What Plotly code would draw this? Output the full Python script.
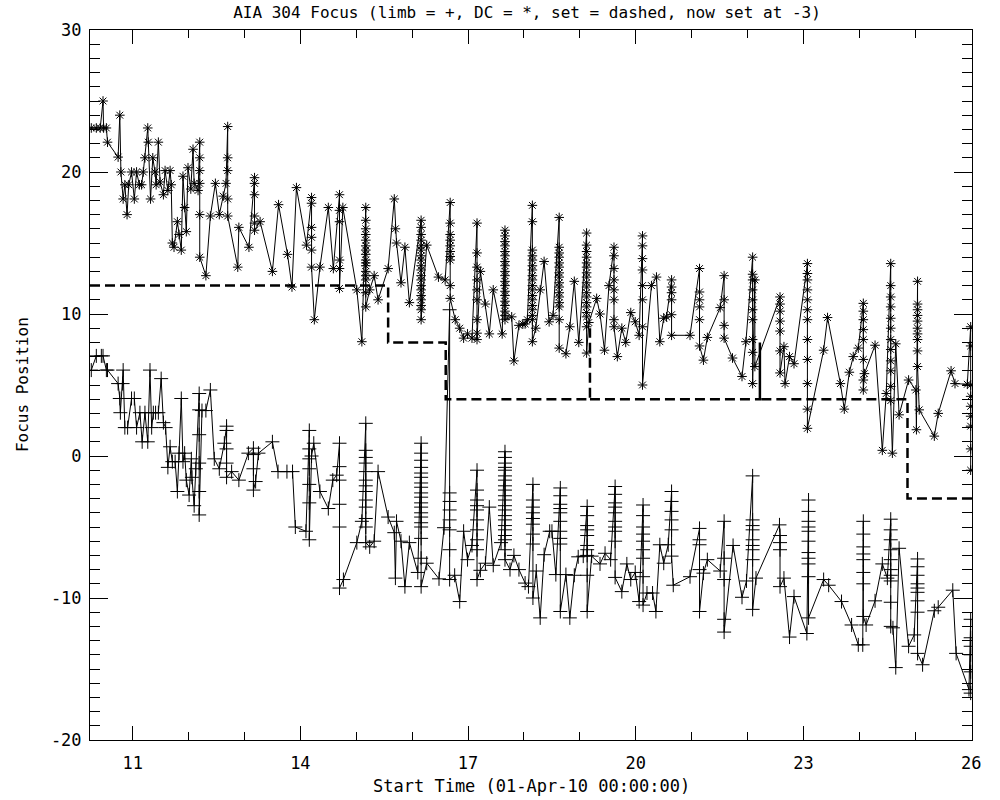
import plotly.graph_objects as go

# ---------------- data ----------------
# DC focus (asterisks): time (day of April 2010) and focus position
dc_t = [10.26, 10.35, 10.42, 10.47, 10.48, 10.53, 10.55, 10.74, 10.77, 10.79,
        10.83, 10.86, 10.90, 10.93, 10.98, 11.03, 11.07, 11.12, 11.16, 11.19,
        11.22, 11.27, 11.28, 11.32, 11.36, 11.40, 11.42, 11.46, 11.49, 11.55,
        11.58, 11.63, 11.67, 11.69, 11.71, 11.74, 11.80, 11.83, 11.87, 11.90,
        11.93, 11.96, 11.99, 12.04, 12.08, 12.10, 12.17,
        12.20, 12.20, 12.20, 12.20, 12.20, 12.20,
        12.31, 12.39, 12.48, 12.55, 12.62, 12.67,
        12.70, 12.70, 12.70, 12.70, 12.70,
        12.88, 12.90, 13.08,
        13.18, 13.18, 13.18, 13.18, 13.18, 13.18,
        13.28, 13.50, 13.61, 13.77, 13.85, 13.93, 14.11,
        14.20, 14.20, 14.20, 14.20, 14.20, 14.20,
        14.25, 14.35, 14.50, 14.59,
        14.70, 14.70, 14.70, 14.70, 14.70, 14.70,
        14.76, 15.01, 15.10,
        15.17, 15.17, 15.17, 15.17, 15.17, 15.17, 15.17, 15.17,
        15.17, 15.17, 15.17, 15.17, 15.17, 15.17, 15.17, 15.17,
        15.24, 15.32, 15.39, 15.57, 15.68, 15.70, 15.72, 15.80, 15.87, 15.95,
        16.16, 16.16, 16.16, 16.16, 16.16, 16.16, 16.16, 16.16, 16.16, 16.16,
        16.16, 16.16, 16.16, 16.16, 16.16, 16.16, 16.16, 16.16, 16.16,
        16.26, 16.47, 16.59,
        16.68, 16.68, 16.68, 16.68, 16.68, 16.68, 16.68, 16.68, 16.68, 16.68,
        16.77, 16.85, 16.92, 16.99, 17.07,
        17.16, 17.16, 17.16, 17.16, 17.16, 17.16, 17.16, 17.16, 17.16,
        17.22, 17.31, 17.38, 17.45, 17.61,
        17.66, 17.66, 17.66, 17.66, 17.66, 17.66, 17.66, 17.66, 17.66, 17.66,
        17.66, 17.66, 17.66, 17.66, 17.66, 17.66, 17.66, 17.66, 17.66,
        17.78, 17.82, 17.91, 17.98, 18.02, 18.06,
        18.15, 18.15, 18.15, 18.15, 18.15, 18.15, 18.15, 18.15, 18.15,
        18.15, 18.15, 18.15, 18.15, 18.15, 18.15, 18.15, 18.15, 18.15,
        18.21, 18.29, 18.36, 18.45, 18.52,
        18.63, 18.63, 18.63, 18.63, 18.63, 18.63, 18.63, 18.63,
        18.63, 18.63, 18.63, 18.63, 18.63, 18.63, 18.63, 18.63,
        18.75, 18.82, 18.90, 18.98,
        19.12, 19.12, 19.12, 19.12, 19.12, 19.12, 19.12, 19.12, 19.12,
        19.12, 19.12, 19.12, 19.12, 19.12, 19.12, 19.12, 19.12, 19.12,
        19.16, 19.30, 19.36, 19.44, 19.52,
        19.61, 19.61, 19.61, 19.61, 19.61, 19.61, 19.61, 19.61,
        19.67, 19.75, 19.82, 19.91, 19.99, 20.06,
        20.12, 20.12, 20.12, 20.12, 20.12, 20.12, 20.12, 20.12,
        20.28, 20.37, 20.43, 20.50, 20.55,
        20.64, 20.64, 20.64, 20.64, 20.64, 20.64,
        20.97,
        21.14, 21.14, 21.14, 21.14, 21.14, 21.14,
        21.21, 21.28, 21.51,
        21.58, 21.58, 21.58, 21.58,
        21.73, 21.90, 21.97,
        22.09, 22.09, 22.09, 22.09, 22.09, 22.09, 22.09, 22.09, 22.09, 22.09,
        22.13, 22.13,
        22.58, 22.58, 22.58, 22.58, 22.58, 22.58, 22.58,
        22.65, 22.67, 22.75, 22.83,
        23.07, 23.07, 23.07, 23.07, 23.07, 23.07, 23.07, 23.07, 23.07, 23.07,
        23.07, 23.07,
        23.36, 23.43, 23.66, 23.73, 23.82, 23.89, 23.98,
        24.07, 24.07, 24.07, 24.07, 24.07, 24.07, 24.07, 24.07,
        24.09, 24.28, 24.41, 24.48,
        24.56, 24.56, 24.56, 24.56, 24.56, 24.56, 24.56, 24.56, 24.56, 24.56,
        24.56, 24.56,
        24.59, 24.65, 24.71, 24.88, 25.01, 25.02,
        25.04, 25.04, 25.04, 25.04, 25.04, 25.04, 25.04, 25.04, 25.04, 25.04,
        25.07, 25.34, 25.41, 25.64, 25.71, 25.93,
        25.99, 25.99, 25.99, 25.99, 25.99, 25.99, 25.99, 25.99, 25.99]
dc_y = [23.1, 23.1, 23.1, 25.0, 23.1, 23.1, 22.1, 21.05, 24.0, 20.0,
        18.1, 19.1, 17.0, 19.1, 20.0, 18.1, 20.0, 19.1, 19.1, 20.0,
        21.0, 23.1, 22.1, 18.1, 21.0, 20.0, 19.1, 22.1, 19.3, 18.4,
        20.1, 18.7, 20.1, 19.1, 15.0, 14.7, 16.5, 15.6, 14.5, 19.7,
        17.5, 15.8, 20.3, 18.8, 21.6, 19.2, 18.7,
        22.1, 21.0, 20.1, 19.2, 17.0, 14.0,
        12.7, 16.9, 19.2, 17.0, 18.3, 19.2,
        23.2, 21.0, 20.1, 18.1, 16.9,
        13.3, 16.1, 14.7,
        19.6, 19.2, 18.4, 16.9, 16.4, 15.9,
        16.5, 13.0, 17.7, 14.2, 11.9, 18.9, 14.85,
        18.2, 17.8, 16.1, 15.4, 14.5, 13.3,
        9.6, 13.3, 17.5, 13.2,
        18.4, 17.3, 16.5, 13.8, 13.2, 11.8,
        17.5, 11.7, 8.05,
        17.5, 16.6, 16.0, 15.6, 15.2, 14.8, 14.5, 14.2,
        13.8, 13.6, 13.4, 13.0, 12.7, 12.4, 11.5, 10.5,
        11.7, 12.7, 11.0, 13.2, 18.1, 16.0, 15.0, 12.2, 14.7, 10.8,
        16.6, 16.1, 15.6, 15.2, 14.8, 14.5, 14.1, 13.8, 13.4, 13.1,
        12.7, 12.4, 12.0, 11.7, 11.3, 11.0, 10.6, 10.3, 9.6,
        14.85, 12.6, 12.4,
        17.85, 16.4, 15.6, 15.2, 14.8, 14.4, 14.05, 13.8, 12.0, 11.1,
        9.6, 9.0, 8.3, 8.6, 8.3,
        16.4, 14.3, 13.3, 12.4, 11.7, 11.0, 9.6, 8.65, 8.2,
        13.0, 10.7, 8.6, 11.7, 8.6,
        15.9, 15.5, 15.1, 14.8, 14.4, 14.1, 13.7, 13.4, 13.0, 12.7,
        12.3, 12.0, 11.6, 11.3, 10.9, 10.6, 10.2, 9.9, 9.6,
        9.8, 6.7, 9.2, 9.3, 9.3, 9.6,
        17.65, 16.5, 14.5, 14.1, 13.8, 13.4, 13.1, 12.7, 12.4,
        12.0, 11.7, 11.3, 11.0, 10.6, 10.3, 9.9, 9.6, 8.05,
        9.0, 11.7, 13.7, 9.45, 9.9,
        16.8, 14.7, 14.3, 14.0, 13.6, 13.3, 12.9, 12.6,
        12.2, 11.9, 11.5, 11.2, 10.8, 10.5, 9.6, 7.6,
        7.2, 9.1, 12.3, 8.0,
        15.7, 14.85, 14.4, 14.0, 13.6, 13.3, 12.9, 12.6, 12.2,
        11.9, 11.5, 11.2, 10.8, 10.5, 10.1, 9.8, 9.1, 7.25,
        9.4, 11.1, 10.0, 7.45, 12.0,
        14.7, 14.1, 13.2, 12.4, 11.7, 11.0, 9.6, 9.1,
        7.0, 9.0, 8.0, 10.1, 9.45, 8.5,
        15.5, 14.8, 13.9, 13.1, 12.0, 11.0, 9.1, 5.0,
        12.0, 12.6, 8.05, 9.7, 9.8,
        12.4, 11.9, 11.5, 11.0, 9.95, 8.5,
        8.5,
        13.2, 11.55, 11.0, 10.5, 9.6, 7.75,
        6.75, 8.35, 10.45,
        12.7, 11.0, 9.2, 8.3,
        6.9, 5.6, 8.05,
        14.0, 12.8, 12.4, 11.7, 11.0, 10.3, 9.6, 8.2, 7.3, 5.1,
        12.4, 6.3,
        11.2, 10.7, 10.2, 9.5, 8.8, 7.4, 5.85,
        7.7, 5.1, 7.0, 6.5,
        13.55, 12.85, 12.4, 11.7, 11.0, 10.3, 9.6, 8.2, 6.8, 5.1,
        3.3, 1.95,
        7.45, 9.75, 5.1, 3.3, 5.9, 7.0, 7.6,
        10.75, 10.2, 9.6, 8.9, 8.2, 6.8, 5.35, 4.65,
        5.8, 7.8, 0.4, 4.4,
        13.55, 12.0, 11.2, 10.5, 9.7, 9.0, 8.2, 7.5, 6.7, 6.0,
        4.9, 3.9,
        0.2, 7.9, 2.9, 5.35, 4.65, 1.85,
        12.3, 10.7, 10.3, 9.9, 9.5, 9.0, 8.6, 8.2, 7.4, 6.3,
        3.25, 1.4, 3.0, 6.0, 5.1, 5.05,
        9.1, 7.75, 5.0, 4.2, 3.5, 2.8, 2.1, 0.5, -1.0]

# Limb focus (plus signs)
limb_t = [10.26, 10.35, 10.44, 10.47, 10.53, 10.55, 10.74, 10.77, 10.78, 10.82,
          10.83, 10.86, 10.91, 10.98, 11.03, 11.07, 11.13, 11.17, 11.22, 11.27,
          11.31, 11.34, 11.37, 11.41, 11.46, 11.51, 11.55, 11.59, 11.63, 11.67,
          11.71, 11.76, 11.80, 11.83, 11.87, 11.90, 11.93, 11.96, 12.01, 12.05,
          12.06, 12.10, 12.13,
          12.19, 12.19, 12.19, 12.19, 12.19, 12.19,
          12.24, 12.31, 12.39, 12.46, 12.55, 12.64,
          12.68, 12.68, 12.68, 12.68, 12.68,
          12.77, 12.90, 13.07,
          13.16, 13.16, 13.16, 13.16,
          13.20, 13.25, 13.50, 13.60, 13.76, 13.86, 13.91, 14.10,
          14.16, 14.16, 14.16, 14.16, 14.16, 14.16, 14.16,
          14.20, 14.24, 14.35, 14.50, 14.58, 14.65,
          14.70, 14.70, 14.70, 14.70, 14.70, 14.70,
          14.77, 15.01, 15.10,
          15.17, 15.17, 15.17, 15.17, 15.17, 15.17, 15.17, 15.17, 15.17, 15.17,
          15.17, 15.17, 15.17,
          15.24, 15.32, 15.39, 15.57, 15.68, 15.70, 15.72, 15.80, 15.87, 15.95, 16.10,
          16.16, 16.16, 16.16, 16.16, 16.16, 16.16, 16.16, 16.16, 16.16, 16.16,
          16.16, 16.16, 16.16, 16.16, 16.16, 16.16, 16.16, 16.16, 16.16,
          16.26, 16.48, 16.57,
          16.67, 16.67, 16.67, 16.67, 16.67, 16.67, 16.67, 16.67,
          16.76, 16.85, 16.92, 16.99, 17.07,
          17.16, 17.16, 17.16, 17.16, 17.16, 17.16, 17.16, 17.16, 17.16, 17.16,
          17.22, 17.31, 17.38, 17.45, 17.59,
          17.66, 17.66, 17.66, 17.66, 17.66, 17.66, 17.66, 17.66, 17.66, 17.66,
          17.66, 17.66, 17.66, 17.66, 17.66, 17.66, 17.66, 17.66, 17.66, 17.66,
          17.66,
          17.75, 17.82, 17.91, 18.02, 18.08,
          18.16, 18.16, 18.16, 18.16, 18.16, 18.16, 18.16, 18.16, 18.16,
          18.22, 18.29, 18.36, 18.46, 18.50, 18.57,
          18.65, 18.65, 18.65, 18.65, 18.65, 18.65, 18.65, 18.65, 18.65, 18.65,
          18.75, 18.82, 18.90, 18.97, 19.06,
          19.13, 19.13, 19.13, 19.13, 19.13, 19.13, 19.13, 19.13, 19.13, 19.13,
          19.21, 19.36, 19.45, 19.55,
          19.63, 19.63, 19.63, 19.63, 19.63, 19.63, 19.63, 19.63, 19.63, 19.63,
          19.75, 19.84, 19.91, 19.99, 20.06,
          20.13, 20.13, 20.13, 20.13, 20.13, 20.13, 20.13, 20.13, 20.13,
          20.20, 20.30, 20.36, 20.43, 20.50, 20.58,
          20.64, 20.64, 20.64, 20.64, 20.64, 20.64,
          20.67, 20.97,
          21.14, 21.14, 21.14, 21.14, 21.14,
          21.21, 21.28, 21.51,
          21.58, 21.58, 21.58, 21.58, 21.58,
          21.74, 21.90, 21.98,
          22.09, 22.09, 22.09, 22.09, 22.09, 22.09, 22.09, 22.09, 22.09,
          22.15, 22.57,
          22.58, 22.58, 22.58, 22.58,
          22.65, 22.75, 22.83, 23.06,
          23.09, 23.09, 23.09, 23.09, 23.09, 23.09, 23.09, 23.09, 23.09, 23.09,
          23.09,
          23.36, 23.45, 23.68, 23.86, 23.98, 24.06,
          24.07, 24.07, 24.07, 24.07, 24.07, 24.07, 24.07, 24.07,
          24.12, 24.28, 24.41, 24.50,
          24.56, 24.56, 24.56, 24.56, 24.56, 24.56, 24.56, 24.56, 24.56, 24.56,
          24.60, 24.65, 24.71, 24.88, 24.98,
          25.04, 25.04, 25.04, 25.04, 25.04, 25.04, 25.04, 25.04, 25.04,
          25.13, 25.34, 25.41, 25.67, 25.73, 25.96,
          25.99, 25.99, 25.99, 25.99, 25.99, 25.99]
limb_y = [6.05, 7.05, 7.05, 7.05, 6.05, 6.05, 5.1, 4.05, 3.05, 5.1,
          6.05, 2.0, 2.0, 4.05, 4.05, 2.0, 3.05, 1.0, 3.05, 1.0,
          6.05, 2.0, 3.05, 3.05, 3.05, 5.45, 2.35, 2.0, -0.8, 0.65,
          -0.4, -0.4, -2.5, 0.2, 4.05, -0.4, 0.2, -1.7, -2.75, -0.2,
          -1.5, -3.5, -0.9,
          4.4, 3.25, 1.5, -0.5, -2.5, -4.15,
          3.2, 3.2, 4.65, -0.2, -0.9, 0.9,
          2.1, 1.8, 0.5, -0.5, -1.5,
          -1.1, -1.7, 0.2,
          0.55, 0.1, -0.9, -2.4,
          -1.8, 0.2, 1.0, -1.1, -1.1, -1.1, -5.0, -5.3,
          1.8, 0.5, -0.2, -0.9, -2.0, -3.3, -5.9,
          0.0, 0.9, -2.5, -3.7, -1.7, -1.35,
          0.9, -0.75, -1.7, -3.4, -5.0, -9.3,
          -8.7, -6.1, -4.6,
          2.3, 0.4, -0.1, -0.5, -1.1, -1.7, -2.1, -2.5, -3.1, -3.6,
          -4.4, -5.0, -6.1,
          -6.4, -6.0, -1.1, -4.3, -5.4, -8.6, -4.6, -6.0, -9.2, -6.1, -8.2,
          0.9, 0.2, -0.3, -0.8, -1.2, -1.5, -1.9, -2.2, -2.6, -2.9,
          -3.3, -3.6, -4.0, -4.3, -4.7, -5.0, -5.8, -7.2, -9.2,
          -7.55, -8.65, -5.05,
          10.3, -2.6, -3.2, -3.8, -4.5, -5.2, -6.6, -8.7,
          -8.4, -10.25, -5.3, -7.3, -6.3,
          -1.0, -2.4, -3.1, -3.5, -3.8, -4.5, -5.2, -5.9, -6.6, -8.7,
          -8.05, -7.55, -3.6, -7.7, -6.1,
          0.3, -0.1, -0.5, -0.8, -1.0, -1.4, -1.7, -2.1, -2.4, -2.8,
          -3.1, -3.5, -3.8, -4.2, -4.5, -4.9, -5.2, -5.6, -5.9, -6.6,
          -7.3,
          -8.0, -7.0, -8.0, -8.95, -9.2,
          -2.0, -3.1, -3.6, -4.0, -4.4, -4.8, -5.5, -6.2, -10.0,
          -8.1, -11.4, -6.95, -5.3, -5.3, -8.35,
          -2.25, -2.8, -3.4, -3.7, -4.0, -4.6, -5.3, -5.8, -6.2, -10.95,
          -8.35, -11.4, -8.4, -7.1, -7.05,
          -3.55, -4.2, -4.9, -5.2, -5.6, -6.3, -6.6, -7.0, -8.4, -10.95,
          -7.05, -7.6, -6.85, -7.3,
          -2.15, -2.7, -3.3, -3.6, -4.0, -4.6, -5.0, -5.3, -6.0, -8.55,
          -9.55, -7.6, -8.7, -8.2, -10.25,
          -3.45, -4.2, -5.0, -5.5, -6.0, -6.6, -7.2, -8.5, -10.5,
          -9.65, -9.65, -10.95, -6.25, -7.55, -6.25,
          -2.5, -3.2, -3.9, -4.5, -5.2, -7.05,
          -9.1, -8.5,
          -5.1, -5.9, -6.25, -8.0, -10.95,
          -8.25, -7.3, -8.1,
          -4.6, -7.2, -8.7, -11.5, -12.4,
          -6.3, -9.95, -8.8,
          -1.4, -4.5, -4.9, -5.2, -5.9, -6.3, -6.6, -7.3, -10.8,
          -8.6, -4.85,
          -5.6, -6.1, -6.6, -9.2,
          -8.6, -12.75, -9.9, -12.5,
          -3.1, -3.9, -4.6, -5.0, -5.3, -6.0, -6.8, -7.2, -7.6, -8.5,
          -11.4,
          -8.7, -9.1, -10.25, -11.9, -13.3, -13.3,
          -4.6, -5.5, -6.4, -6.9, -7.3, -8.2, -9.0, -11.3,
          -11.9, -10.2, -7.6, -8.6,
          -4.45, -5.2, -5.9, -6.6, -7.3, -8.0, -8.4, -8.8, -10.3, -12.0,
          -12.1, -14.9, -6.5, -13.4, -12.6,
          -7.25, -7.8, -8.4, -9.0, -9.3, -9.6, -10.2, -11.0, -13.9,
          -14.7, -10.9, -10.65, -9.45, -13.9, -16.45,
          -11.5, -12.8, -13.4, -14.0, -15.2, -16.7]

assert len(dc_t) == len(dc_y), (len(dc_t), len(dc_y))
assert len(limb_t) == len(limb_y), (len(limb_t), len(limb_y))

# Commanded focus setting (dashed step line); None = pen lifted
set_t = [10.237, 15.57, 15.57, 16.60, 16.60, 19.18, 19.18, None, 19.18,
         22.22, 22.22, 22.22, 24.86, 24.86, 26.014]
set_y = [12, 12, 8, 8, 4, 4, 9, None, 4, 4, 8, 4, 4, -3, -3]

x_ticks = [11, 14, 17, 20, 23, 26]
y_ticks = [-20, -10, 0, 10, 20, 30]

TITLE = "AIA 304 Focus (limb = +, DC = *, set = dashed, now set at -3)"
XTITLE = "Start Time (01-Apr-10 00:00:00)"
YTITLE = "Focus Position"

FONT = "DejaVu Sans Mono"

fig = go.Figure()
fig.add_trace(go.Scatter(
    x=dc_t, y=dc_y, mode="lines+markers",
    line=dict(color="black", width=1),
    marker=dict(symbol="asterisk-open", size=8, color="black",
                line=dict(color="black", width=1)),
    hoverinfo="skip", showlegend=False))
fig.add_trace(go.Scatter(
    x=limb_t, y=limb_y, mode="lines+markers",
    line=dict(color="black", width=1),
    marker=dict(symbol="cross-thin-open", size=10, color="black",
                line=dict(color="black", width=1)),
    hoverinfo="skip", showlegend=False))
fig.add_trace(go.Scatter(
    x=set_t, y=set_y, mode="lines", connectgaps=False,
    line=dict(color="black", width=2.5, dash="10px,5px"),
    hoverinfo="skip", showlegend=False))

fig.update_layout(
    width=1000, height=800,
    margin=dict(l=90, r=27.5, t=30, b=60),
    paper_bgcolor="white", plot_bgcolor="white",
    font=dict(family=FONT, size=17, color="black"),
    showlegend=False, hovermode=False,
    title=dict(text=TITLE, x=0.527, xref="container", xanchor="center",
               y=0.985, yref="container", yanchor="middle",
               font=dict(family=FONT, size=16, color="black")),
)

fig.update_xaxes(
    range=[10.237, 26.014], showgrid=False, zeroline=False,
    showline=True, linecolor="black", linewidth=1, mirror="allticks",
    tickmode="array", tickvals=x_ticks, ticktext=[str(v) for v in x_ticks],
    ticks="inside", ticklen=14, tickwidth=1, tickcolor="black",
    ticklabelstandoff=8,
    minor=dict(tick0=11, dtick=1, ticks="inside", ticklen=8,
               tickcolor="black", tickwidth=1, showgrid=False),
)
fig.update_yaxes(
    range=[-20, 30], showgrid=False, zeroline=False,
    showline=True, linecolor="black", linewidth=1, mirror="allticks",
    tickmode="array", tickvals=y_ticks, ticktext=[str(v) for v in y_ticks],
    ticks="inside", ticklen=18, tickwidth=1, tickcolor="black",
    ticklabelstandoff=4,
    minor=dict(tick0=0, dtick=1, ticks="inside", ticklen=10,
               tickcolor="black", tickwidth=1, showgrid=False),
)

fig.add_annotation(text=XTITLE, xref="paper", yref="paper", x=0.5, y=-0.065,
                   xanchor="center", yanchor="middle", showarrow=False,
                   font=dict(family=FONT, size=17, color="black"))
fig.add_annotation(text=YTITLE, xref="paper", yref="paper", x=-0.077, y=0.5,
                   xanchor="center", yanchor="middle", textangle=-90,
                   showarrow=False,
                   font=dict(family=FONT, size=16, color="black"))

fig.write_html("out.html",
               config={"displayModeBar": False, "staticPlot": True},
               post_script="document.body.style.margin='0';")
